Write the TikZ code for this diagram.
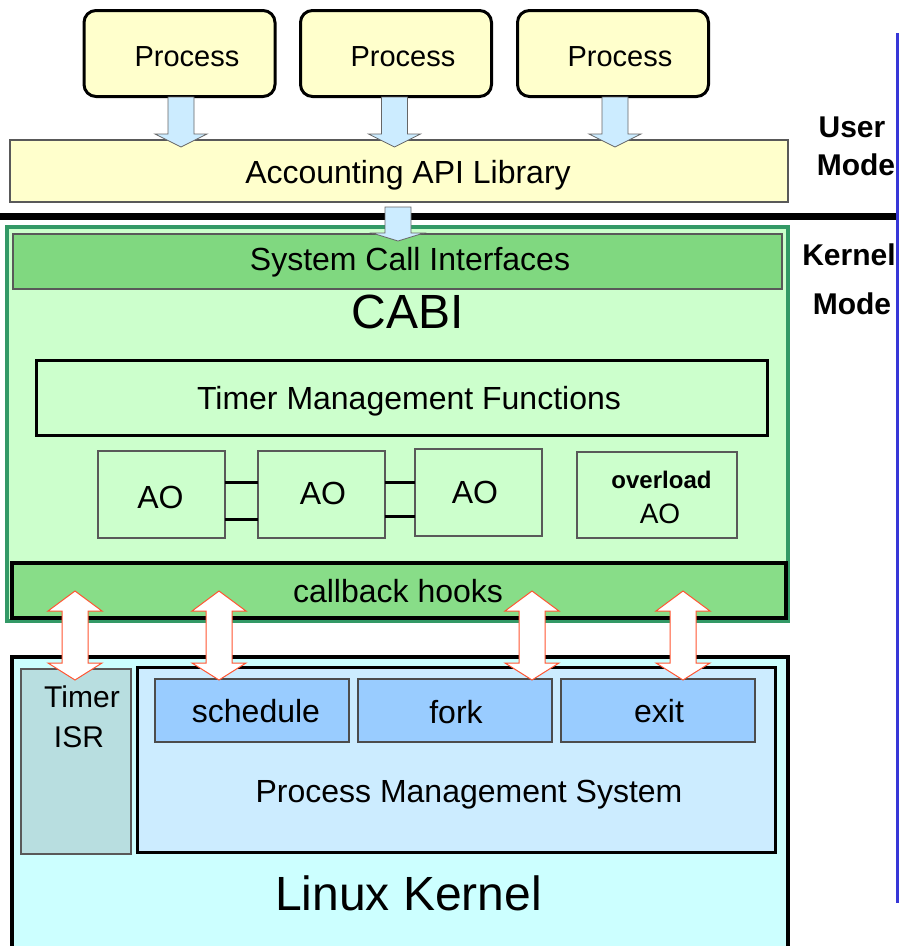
\documentclass[tikz,border=0pt]{standalone}
\usepackage{fontspec}
\setmainfont{Liberation Sans}
\newcommand\fsz[1]{\fontsize{#1}{#1}\selectfont}
\definecolor{procfill}{RGB}{255,255,204}
\definecolor{arrowblue}{RGB}{204,236,255}
\definecolor{cabigreen}{RGB}{204,255,204}
\definecolor{cabiborder}{RGB}{51,153,102}
\definecolor{sysgreen}{RGB}{128,216,128}
\definecolor{cbgreen}{RGB}{136,221,136}
\definecolor{linuxfill}{RGB}{204,255,255}
\definecolor{isrfill}{RGB}{184,222,224}
\definecolor{pmsfill}{RGB}{204,236,255}
\definecolor{callfill}{RGB}{153,204,255}
\definecolor{redline}{RGB}{255,85,50}
\definecolor{bluerule}{RGB}{55,55,215}
\newcommand\blockdown[4]{%
  \draw[barrow] (#1-13,#2) -- (#1+13,#2) -- (#1+13,#3) -- (#1+26,#3) -- (#1,#4) -- (#1-26,#3) -- (#1-13,#3) -- cycle;}
\newcommand\dblarrow[1]{%
  \draw[darrow] (#1-13,611) -- (#1-27,611) -- (#1,591) -- (#1+27,611) -- (#1+13,611) -- (#1+13,663) -- (#1+27,663) -- (#1,680) -- (#1-27,663) -- (#1-13,663) -- cycle;}
\begin{document}
\begin{tikzpicture}[x=1pt,y=-1pt,
  box/.style={rectangle, inner sep=0pt, outer sep=0pt, draw},
  procbox/.style={box, fill=procfill, line width=3pt, rounded corners=12pt, minimum width=191pt, minimum height=86pt},
  thinbox/.style={box, draw=black!65, line width=1.2pt},
  aobox/.style={thinbox, fill=cabigreen, minimum width=127pt, minimum height=87pt},
  callbox/.style={box, draw=black!70, line width=1.2pt, fill=callfill, minimum width=194pt, minimum height=63pt},
  lbl/.style={anchor=base, inner sep=0pt, outer sep=0pt, text=black, font=\fsz{32}},
  mode/.style={lbl, font=\fsz{30}\bfseries},
  barrow/.style={fill=arrowblue, draw=black!60, line width=0.8pt},
  darrow/.style={fill=white, draw=redline, line width=1pt},
  link/.style={line width=3pt}]
\useasboundingbox (0,0) rectangle (899,946);
\fill[white] (0,0) rectangle (899,946);
\begin{scope}
\clip (0,0) rectangle (899,946);
% user mode
\node[procbox] (p1) at (179.5,53.5) {};
\node[procbox] (p2) at (396,53.5) {};
\node[procbox] (p3) at (613,53.5) {};
\node[thinbox, fill=procfill, minimum width=778pt, minimum height=62pt] (api) at (399,171) {};
\blockdown{181}{97}{134}{147}
\blockdown{394.5}{97}{134}{147}
\blockdown{615}{97}{134}{147}
\draw[line width=7pt] (0,216.5) -- (899,216.5);
% CABI
\node[box, draw=cabiborder, fill=cabigreen, line width=4pt, minimum width=781pt, minimum height=394pt] (cabi) at (397.5,424) {};
\node[thinbox, fill=sysgreen, minimum width=769pt, minimum height=55pt] (sys) at (397.5,261.5) {};
\node[box, line width=3pt, minimum width=731pt, minimum height=75pt] (tmf) at (402,398) {};
\node[aobox] (ao1) at (161.5,494.5) {};
\node[aobox] (ao2) at (321.5,494.5) {};
\node[aobox] (ao3) at (478.5,492.5) {};
\node[thinbox, fill=cabigreen, minimum width=160pt, minimum height=86pt] (ovl) at (657,495) {};
\draw[link] (ao1.east |- 0,482) -- (ao2.west |- 0,482);
\draw[link] (ao1.east |- 0,519) -- (ao2.west |- 0,519);
\draw[link] (ao2.east |- 0,482) -- (ao3.west |- 0,482);
\draw[link] (ao2.east |- 0,516) -- (ao3.west |- 0,516);
\node[box, fill=cbgreen, line width=4pt, minimum width=774pt, minimum height=55pt] (cb) at (399,590.5) {};
% Linux kernel
\node[box, fill=linuxfill, line width=4pt, minimum width=776pt, minimum height=303pt] (lk) at (400,808.5) {};
\node[thinbox, fill=isrfill, minimum width=110pt, minimum height=185pt] (isr) at (76,761.5) {};
\node[box, fill=pmsfill, line width=3pt, minimum width=638pt, minimum height=185pt] (pms) at (456.5,760) {};
\node[callbox] (sched) at (252,710.5) {};
\node[callbox] (fork) at (455,710.5) {};
\node[callbox] (exit) at (658,710.5) {};
% texts
\node[lbl, font=\fsz{29}] (tp1) at (187,66) {Process};
\node[lbl, font=\fsz{29}] (tp2) at (403,66) {Process};
\node[lbl, font=\fsz{29}] (tp3) at (620,66) {Process};
\node[lbl] (tapi) at (408,183) {Accounting API Library};
\node[lbl] (tsys) at (410,270) {System Call Interfaces};
\node[lbl, font=\fsz{48}] (tcabi) at (408,328) {CABI};
\node[lbl] (ttmf) at (409,409) {Timer Management Functions};
\node[lbl] (tao1) at (160.5,508) {AO};
\node[lbl] (tao2) at (323,504) {AO};
\node[lbl] (tao3) at (475,503) {AO};
\node[lbl, font=\fsz{24}\bfseries] (tovl) at (661.5,488) {overload};
\node[lbl, font=\fsz{28}] (tovlao) at (660,523) {AO};
\node[lbl] (tcb) at (398,602) {callback hooks};
\node[lbl, font=\fsz{30}] (ttimer) at (82,707) {Timer};
\node[lbl, font=\fsz{30}] (tisr) at (79,747) {ISR};
\node[lbl] (tsched) at (256,722) {schedule};
\node[lbl] (tfork) at (456,723) {fork};
\node[lbl] (texit) at (659,722) {exit};
\node[lbl] (tpms) at (469,802) {Process Management System};
\node[lbl, font=\fsz{48}] (tlk) at (408.5,910) {Linux Kernel};
% arrows on top
\blockdown{398}{207}{233}{241}
\dblarrow{75}
\dblarrow{219}
\dblarrow{532}
\dblarrow{683}
% mode labels
\node[mode] (tuser) at (852,137) {User};
\node[mode] (tumode) at (856,175) {Mode};
\node[mode] (tkern) at (849,265) {Kernel};
\node[mode] (tkmode) at (852,314) {Mode};
\coordinate (rtop) at (897.5,33);
\coordinate (rbot) at (897.5,903);
\draw[bluerule, line width=3pt] (rtop) -- (rbot);
\end{scope}
\end{tikzpicture}
\end{document}
